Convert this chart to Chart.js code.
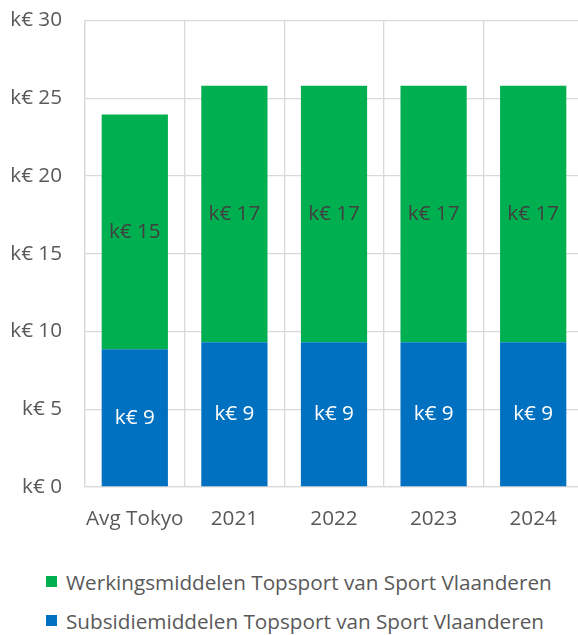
<!DOCTYPE html>
<html>
<head>
<meta charset="utf-8">
<script src="https://cdn.jsdelivr.net/npm/chart.js@4"></script>
<style>
  body { margin: 0; background: #fff; font-family: "Open Sans", sans-serif; }
  #wrap { position: relative; width: 578px; height: 540px; overflow: hidden; }
  #chart { position: absolute; left: 0; top: -15px; }
  #legend { position: absolute; left: 46px; top: 562px; color: #595959; font-size: 20.7px; }
  #legend div { height: 39px; display: flex; align-items: center; white-space: nowrap; }
  #legend span.box { display: inline-block; width: 11px; height: 11px; margin-right: 9px; }
</style>
</head>
<body>
<div id="wrap"><canvas id="chart" width="583" height="555"></canvas></div>
<div id="legend"></div>
<script>
const categories = ["Avg Tokyo", "2021", "2022", "2023", "2024"];
const subsidie = [8.85, 9.3, 9.3, 9.3, 9.3];
const werking = [15.1, 16.5, 16.5, 16.5, 16.5];
const seriesNames = ["Subsidiemiddelen Topsport van Sport Vlaanderen", "Werkingsmiddelen Topsport van Sport Vlaanderen"];
const seriesColors = ["#0070C0", "#00B050"];
const labelColors = ["#ffffff", "#404040"];

const FONT = "'Open Sans', sans-serif";
const SIZE = 20.7;

// draws "k€ n" in the middle of each bar segment
const segmentLabels = {
  id: "segmentLabels",
  afterDatasetsDraw(chart) {
    const ctx = chart.ctx;
    ctx.save();
    ctx.font = SIZE + "px " + FONT;
    ctx.textAlign = "center";
    ctx.textBaseline = "middle";
    chart.data.datasets.forEach((ds, i) => {
      const meta = chart.getDatasetMeta(i);
      meta.data.forEach((bar, j) => {
        const mid = (bar.y + bar.base) / 2;
        ctx.fillStyle = labelColors[i];
        ctx.fillText("k€ " + Math.round(ds.data[j]), bar.x, mid);
      });
    });
    ctx.restore();
  }
};

new Chart(document.getElementById("chart"), {
  type: "bar",
  data: {
    labels: categories,
    datasets: [
      { label: seriesNames[0], data: subsidie, backgroundColor: seriesColors[0] },
      { label: seriesNames[1], data: werking, backgroundColor: seriesColors[1] }
    ]
  },
  options: {
    responsive: false,
    animation: false,
    layout: { autoPadding: false, padding: { top: 5, right: 0, left: 8, bottom: 8 } },
    datasets: { bar: { categoryPercentage: 1, barPercentage: 0.665 } },
    plugins: {
      legend: { display: false },
      tooltip: { enabled: false }
    },
    scales: {
      x: {
        stacked: true,
        afterFit: s => { s.height = 45; },
        grid: { color: "#d9d9d9", lineWidth: 1.3, drawTicks: false },
        border: { color: "#d9d9d9", width: 1.3 },
        ticks: {
          color: "#595959",
          font: { family: FONT, size: SIZE },
          padding: 20,
          maxRotation: 0,
          minRotation: 0,
          autoSkip: false
        }
      },
      y: {
        stacked: true,
        min: 0, max: 30,
        afterFit: s => { s.width = 77; },
        grid: { color: "#d9d9d9", lineWidth: 1.3, drawTicks: false },
        border: { color: "#d9d9d9", width: 1.3 },
        ticks: {
          stepSize: 5,
          color: "#595959",
          font: { family: FONT, size: SIZE },
          padding: 23,
          callback: v => "k€ " + v
        }
      }
    }
  },
  plugins: [segmentLabels]
});

// legend: werking first, then subsidie (as in the original)
const legend = document.getElementById("legend");
[1, 0].forEach(i => {
  const row = document.createElement("div");
  row.innerHTML = `<span class="box" style="background:${seriesColors[i]}"></span>${seriesNames[i]}`;
  legend.appendChild(row);
});
</script>
</body>
</html>
